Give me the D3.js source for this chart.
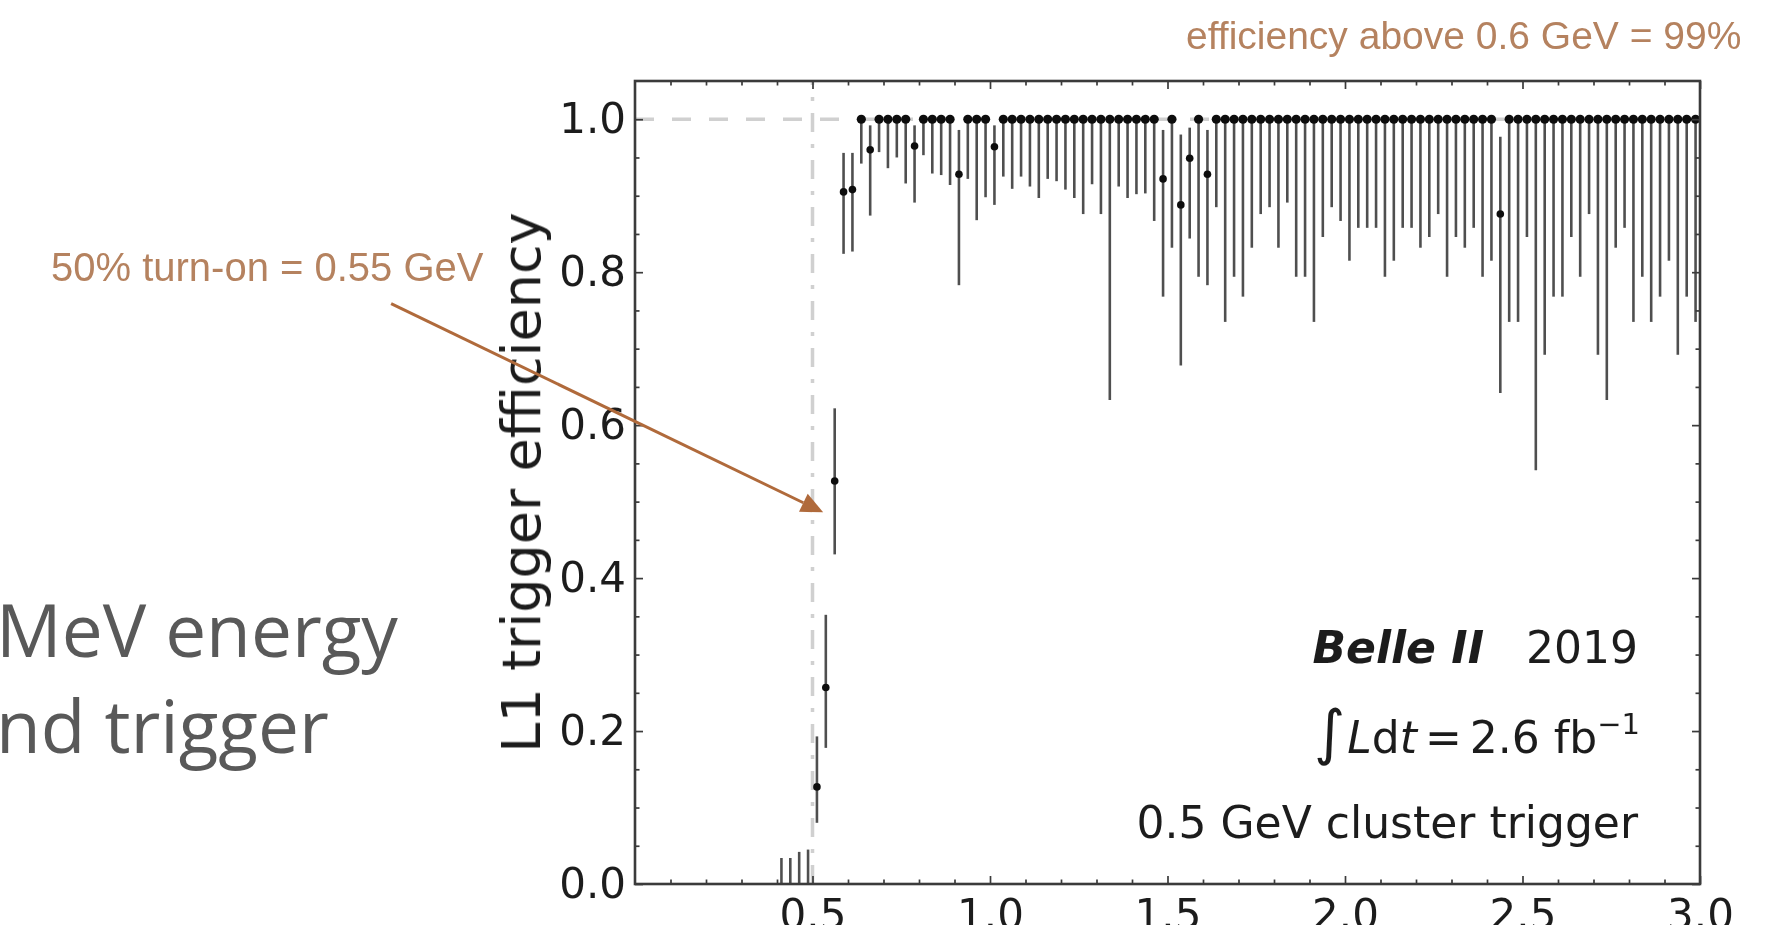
<!DOCTYPE html>
<html>
<head>
<meta charset="utf-8">
<script src="https://cdn.jsdelivr.net/npm/d3@7"></script>
<style>
  html, body { margin: 0; padding: 0; background: #ffffff; overflow: hidden; }
  svg { display: block; }
</style>
</head>
<body>
<svg id="chart" width="1775" height="925"></svg>
<script>
// ---- Data: L1 trigger efficiency per 25 MeV cluster-energy bin (GeV) ----
const energy = [
  0.4125, 0.4375, 0.4625, 0.4875, 0.5125, 0.5375, 0.5625, 0.5875, 0.6125, 0.6375,
  0.6625, 0.6875, 0.7125, 0.7375, 0.7625, 0.7875, 0.8125, 0.8375, 0.8625, 0.8875,
  0.9125, 0.9375, 0.9625, 0.9875, 1.0125, 1.0375, 1.0625, 1.0875, 1.1125, 1.1375,
  1.1625, 1.1875, 1.2125, 1.2375, 1.2625, 1.2875, 1.3125, 1.3375, 1.3625, 1.3875,
  1.4125, 1.4375, 1.4625, 1.4875, 1.5125, 1.5375, 1.5625, 1.5875, 1.6125, 1.6375,
  1.6625, 1.6875, 1.7125, 1.7375, 1.7625, 1.7875, 1.8125, 1.8375, 1.8625, 1.8875,
  1.9125, 1.9375, 1.9625, 1.9875, 2.0125, 2.0375, 2.0625, 2.0875, 2.1125, 2.1375,
  2.1625, 2.1875, 2.2125, 2.2375, 2.2625, 2.2875, 2.3125, 2.3375, 2.3625, 2.3875,
  2.4125, 2.4375, 2.4625, 2.4875, 2.5125, 2.5375, 2.5625, 2.5875, 2.6125, 2.6375,
  2.6625, 2.6875, 2.7125, 2.7375, 2.7625, 2.7875, 2.8125, 2.8375, 2.8625, 2.8875,
  2.9125, 2.9375, 2.9625, 2.9875
];

const efficiency = [
  0, 0, 0, 0, 0.127, 0.257, 0.527, 0.905, 0.908, 1,
  0.960, 1, 1, 1, 1, 0.965, 1, 1, 1, 1,
  0.928, 1, 1, 1, 0.964, 1, 1, 1, 1, 1,
  1, 1, 1, 1, 1, 1, 1, 1, 1, 1,
  1, 1, 1, 0.922, 1, 0.888, 0.949, 1, 0.928, 1,
  1, 1, 1, 1, 1, 1, 1, 1, 1, 1,
  1, 1, 1, 1, 1, 1, 1, 1, 1, 1,
  1, 1, 1, 1, 1, 1, 1, 1, 1, 1,
  1, 0.876, 1, 1, 1, 1, 1, 1, 1, 1,
  1, 1, 1, 1, 1, 1, 1, 1, 1, 1,
  1, 1, 1, 1
];

// lower edge of the confidence interval
const effLow = [
  0, 0, 0, 0, 0.080, 0.178, 0.431, 0.824, 0.827, 0.942,
  0.874, 0.957, 0.936, 0.950, 0.916, 0.891, 0.953, 0.929, 0.927, 0.914,
  0.783, 0.922, 0.868, 0.898, 0.888, 0.925, 0.909, 0.925, 0.912, 0.897,
  0.922, 0.919, 0.908, 0.897, 0.876, 0.915, 0.876, 0.633, 0.912, 0.897,
  0.902, 0.903, 0.867, 0.768, 0.832, 0.678, 0.844, 0.794, 0.783, 0.885,
  0.735, 0.794, 0.768, 0.832, 0.876, 0.885, 0.832, 0.891, 0.794, 0.794,
  0.735, 0.846, 0.885, 0.867, 0.815, 0.858, 0.858, 0.858, 0.794, 0.815,
  0.858, 0.858, 0.832, 0.846, 0.876, 0.794, 0.846, 0.832, 0.858, 0.794,
  0.815, 0.642, 0.735, 0.735, 0.846, 0.541, 0.692, 0.768, 0.768, 0.846,
  0.794, 0.876, 0.692, 0.633, 0.832, 0.858, 0.735, 0.794, 0.735, 0.768,
  0.815, 0.692, 0.768, 0.735
];

// upper edge of the confidence interval
const effHigh = [
  0.034, 0.034, 0.042, 0.045, 0.193, 0.352, 0.622, 0.956, 0.956, 1,
  0.992, 1, 1, 1, 1, 0.992, 1, 1, 1, 1,
  0.986, 1, 1, 1, 0.992, 1, 1, 1, 1, 1,
  1, 1, 1, 1, 1, 1, 1, 1, 1, 1,
  1, 1, 1, 0.986, 1, 0.980, 0.989, 1, 0.986, 1,
  1, 1, 1, 1, 1, 1, 1, 1, 1, 1,
  1, 1, 1, 1, 1, 1, 1, 1, 1, 1,
  1, 1, 1, 1, 1, 1, 1, 1, 1, 1,
  1, 0.977, 1, 1, 1, 1, 1, 1, 1, 1,
  1, 1, 1, 1, 1, 1, 1, 1, 1, 1,
  1, 1, 1, 1
];

const xTicks = [0.5, 1.0, 1.5, 2.0, 2.5, 3.0];
const yTicks = [0.0, 0.2, 0.4, 0.6, 0.8, 1.0];
const xMinorTicks = [0.1, 0.2, 0.3, 0.4, 0.6, 0.7, 0.8, 0.9, 1.1, 1.2, 1.3, 1.4, 1.6, 1.7, 1.8, 1.9,
                     2.1, 2.2, 2.3, 2.4, 2.6, 2.7, 2.8, 2.9];
const yMinorTicks = [0.05, 0.1, 0.15, 0.25, 0.3, 0.35, 0.45, 0.5, 0.55, 0.65, 0.7, 0.75, 0.85, 0.9, 0.95];

const thresholdEnergy = 0.5;   // cluster trigger threshold (GeV)
const plateauLevel = 1.0;

// annotation arrow, in data units: label -> 50% turn-on point
const arrowFrom = [-0.687, 0.759];
const arrowTo = [0.530, 0.486];

// ---- Layout ----
const plot = { left: 635, right: 1700, top: 81, bottom: 884 };
const svg = d3.select('#chart');

const x = d3.scaleLinear().domain([0, 3]).range([plot.left, plot.right]);
const y = d3.scaleLinear().domain([0, 1.05]).range([plot.bottom, plot.top]);

const ink = '#1e1e1e';
const axisInk = '#3a3a3a';
const accent = '#b06a3b';
const accentText = '#b5825f';

svg.append('rect').attr('width', 1775).attr('height', 925).attr('fill', '#ffffff');

// soft edge for the pasted figure
svg.append('defs').append('filter').attr('id', 'soft')
  .append('feGaussianBlur').attr('stdDeviation', 0.6);

// ---- Slide text on the left ----
const slideText = svg.append('text')
  .attr('font-family', '"Open Sans", "Noto Sans", sans-serif')
  .attr('font-size', 73)
  .attr('fill', '#595959');
slideText.append('tspan').attr('x', -4).attr('y', 657).text('MeV energy');
slideText.append('tspan').attr('x', -4).attr('y', 753).text('nd trigger');

const fig = svg.append('g').attr('filter', 'url(#soft)');

// ---- Plot area ----
fig.append('clipPath').attr('id', 'plot-clip')
  .append('rect')
  .attr('x', plot.left).attr('y', plot.top)
  .attr('width', plot.right - plot.left).attr('height', plot.bottom - plot.top);

const body = fig.append('g').attr('clip-path', 'url(#plot-clip)');

// reference lines: 100% plateau and trigger threshold
body.append('line')
  .attr('x1', x(0)).attr('x2', x(3))
  .attr('y1', y(plateauLevel)).attr('y2', y(plateauLevel))
  .attr('stroke', '#d0d0d0').attr('stroke-width', 3.5)
  .attr('stroke-dasharray', '19,18');

body.append('line')
  .attr('x1', x(thresholdEnergy)).attr('x2', x(thresholdEnergy))
  .attr('y1', y(0)).attr('y2', y(1.05))
  .attr('stroke', '#d0d0d0').attr('stroke-width', 3.5)
  .attr('stroke-dasharray', '19,12,4,12');

const points = energy.map((e, i) => ({ e, v: efficiency[i], lo: effLow[i], hi: effHigh[i] }));

// error bars
body.selectAll('line.err')
  .data(points)
  .join('line')
  .attr('class', 'err')
  .attr('x1', d => x(d.e)).attr('x2', d => x(d.e))
  .attr('y1', d => y(d.lo)).attr('y2', d => y(d.hi))
  .attr('stroke', '#505050')
  .attr('stroke-width', 2.6);

// markers (bins with zero efficiency sit on the frame and are left unmarked)
body.selectAll('circle.pt')
  .data(points.filter(d => d.v > 0))
  .join('circle')
  .attr('class', 'pt')
  .attr('cx', d => x(d.e))
  .attr('cy', d => y(d.v))
  .attr('r', d => d.v === plateauLevel ? 4.6 : 3.8)
  .attr('fill', '#111111');

// ---- Axes (ticks pointing inward on all four sides) ----
function styleAxis(g, withText) {
  g.select('.domain').remove();
  g.selectAll('.tick line').attr('stroke', axisInk).attr('stroke-width', 1.7);
  if (withText) {
    g.selectAll('.tick text')
      .attr('font-family', '"DejaVu Sans", sans-serif')
      .attr('font-size', 42)
      .attr('fill', ink);
  } else {
    g.selectAll('.tick text').remove();
  }
}
const fmt = d3.format('.1f');
const major = 8, minor = 4.5;

fig.append('g').attr('transform', `translate(0,${plot.bottom})`)
  .call(d3.axisBottom(x).tickValues(xTicks).tickSize(-major).tickPadding(15).tickFormat(fmt))
  .call(g => styleAxis(g, true));
fig.append('g').attr('transform', `translate(0,${plot.bottom})`)
  .call(d3.axisBottom(x).tickValues(xMinorTicks).tickSize(-minor).tickFormat(''))
  .call(g => styleAxis(g, false));
fig.append('g').attr('transform', `translate(0,${plot.top})`)
  .call(d3.axisTop(x).tickValues(xTicks).tickSize(-major).tickFormat(''))
  .call(g => styleAxis(g, false));
fig.append('g').attr('transform', `translate(0,${plot.top})`)
  .call(d3.axisTop(x).tickValues(xMinorTicks).tickSize(-minor).tickFormat(''))
  .call(g => styleAxis(g, false));

fig.append('g').attr('transform', `translate(${plot.left},0)`)
  .call(d3.axisLeft(y).tickValues(yTicks).tickSize(-major).tickPadding(9).tickFormat(fmt))
  .call(g => styleAxis(g, true));
fig.append('g').attr('transform', `translate(${plot.left},0)`)
  .call(d3.axisLeft(y).tickValues(yMinorTicks).tickSize(-minor).tickFormat(''))
  .call(g => styleAxis(g, false));
fig.append('g').attr('transform', `translate(${plot.right},0)`)
  .call(d3.axisRight(y).tickValues(yTicks).tickSize(-major).tickFormat(''))
  .call(g => styleAxis(g, false));
fig.append('g').attr('transform', `translate(${plot.right},0)`)
  .call(d3.axisRight(y).tickValues(yMinorTicks).tickSize(-minor).tickFormat(''))
  .call(g => styleAxis(g, false));

// frame
fig.append('rect')
  .attr('x', plot.left).attr('y', plot.top)
  .attr('width', plot.right - plot.left).attr('height', plot.bottom - plot.top)
  .attr('fill', 'none').attr('stroke', axisInk).attr('stroke-width', 2.6);

// y-axis title
fig.append('text')
  .attr('transform', `translate(540,${(plot.top + plot.bottom) / 2}) rotate(-90)`)
  .attr('text-anchor', 'middle')
  .attr('font-family', '"DejaVu Sans", sans-serif')
  .attr('font-size', 54)
  .attr('fill', ink)
  .text('L1 trigger efficiency');

// ---- In-plot labels ----
const labelX = 1638;
const lab = fig.append('g')
  .attr('font-family', '"DejaVu Sans", sans-serif')
  .attr('font-size', 44)
  .attr('fill', ink)
  .attr('text-anchor', 'end');

const l1 = lab.append('text').attr('x', labelX).attr('y', 663);
l1.append('tspan').attr('font-weight', 'bold').attr('font-style', 'italic').text('Belle II');
l1.append('tspan').attr('dx', 42).text('2019');

const l2 = lab.append('text').attr('x', labelX + 2).attr('y', 753);
l2.append('tspan').attr('font-size', 60).text('\u222B');
l2.append('tspan').attr('font-style', 'italic').attr('dx', 2).text('L');
l2.append('tspan').text('d');
l2.append('tspan').attr('font-style', 'italic').text('t');
l2.append('tspan').attr('dx', 8).text('=');
l2.append('tspan').attr('dx', 8).text('2.6 fb');
l2.append('tspan').attr('font-size', 29).attr('dy', -19).text('\u22121');

lab.append('text').attr('x', labelX).attr('y', 838).text('0.5 GeV cluster trigger');

// ---- Annotations ----
const notes = svg.append('g').attr('filter', 'url(#soft)');
notes.append('text')
  .attr('x', 1186).attr('y', 49)
  .attr('font-family', '"Liberation Sans", Arial, sans-serif')
  .attr('font-size', 39)
  .attr('fill', accentText)
  .text('efficiency above 0.6 GeV = 99%');

notes.append('text')
  .attr('x', 51).attr('y', 281)
  .attr('font-family', '"Liberation Sans", Arial, sans-serif')
  .attr('font-size', 40)
  .attr('fill', accentText)
  .text('50% turn-on = 0.55 GeV');

const ax0 = x(arrowFrom[0]), ay0 = y(arrowFrom[1]);
const ax1 = x(arrowTo[0]), ay1 = y(arrowTo[1]);
const ang = Math.atan2(ay1 - ay0, ax1 - ax0);
const headLen = 22, headHalf = 10;
const bx = ax1 - headLen * Math.cos(ang), by = ay1 - headLen * Math.sin(ang);
notes.append('line')
  .attr('x1', ax0).attr('y1', ay0).attr('x2', bx).attr('y2', by)
  .attr('stroke', accent).attr('stroke-width', 3);
notes.append('path')
  .attr('d', d3.line()([
    [ax1, ay1],
    [bx + headHalf * Math.sin(ang), by - headHalf * Math.cos(ang)],
    [bx - headHalf * Math.sin(ang), by + headHalf * Math.cos(ang)]
  ]) + 'Z')
  .attr('fill', accent);
</script>
</body>
</html>
